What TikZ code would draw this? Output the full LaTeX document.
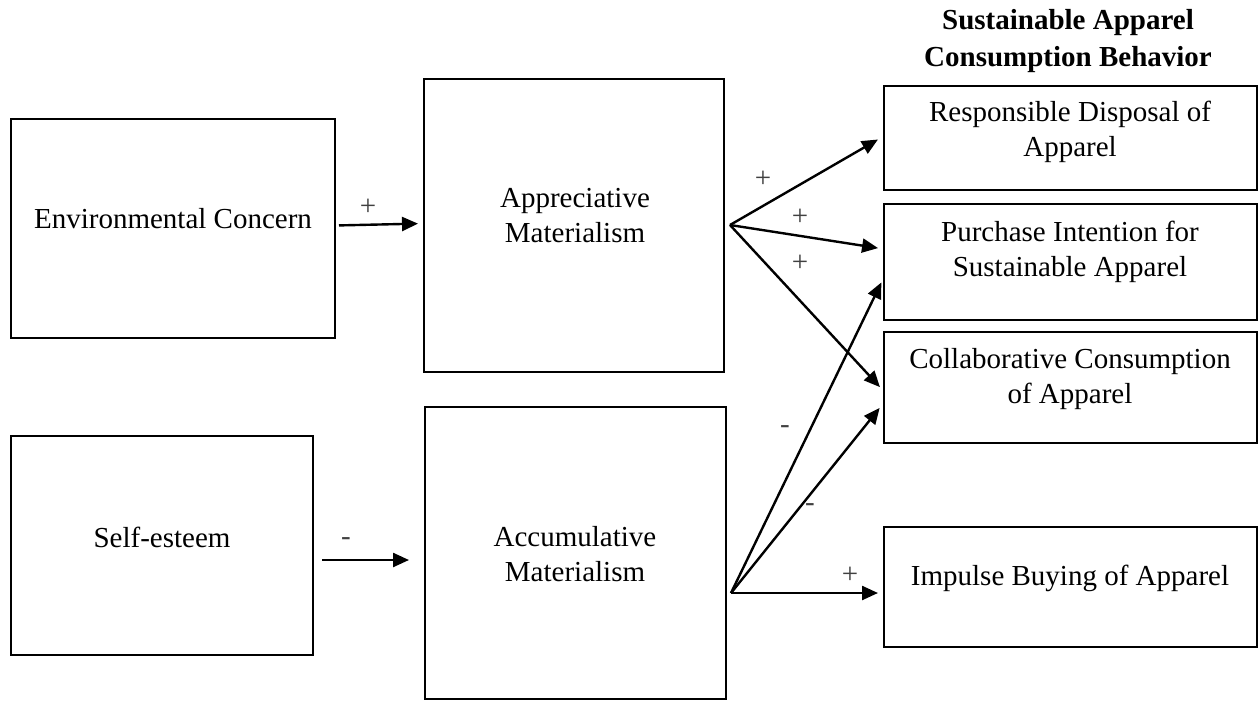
\documentclass[tikz,border=0pt]{standalone}
\usepackage{fontspec}
\setmainfont{Liberation Serif}
\usetikzlibrary{arrows.meta}
\begin{document}
\begin{tikzpicture}[x=1pt,y=-1pt,
  box/.style={draw=black,line width=1.8pt,inner sep=0pt,outer sep=0pt,rectangle},
  txt/.style={align=center,inner sep=0pt,font=\fontsize{29}{35}\selectfont},
  sign/.style={inner sep=0pt,text=black!75,font=\fontsize{29}{35}\selectfont},
  arr/.style={line width=2.4pt,-{Triangle[length=16pt,width=14pt]}}]
\useasboundingbox (0,0) rectangle (1258,701);
% boxes
\node[box,minimum width=324pt,minimum height=219pt] (env) at (173,228.5) {};
\node[box,minimum width=300pt,minimum height=293pt] (app) at (574,225.5) {};
\node[box,minimum width=302pt,minimum height=219pt] (self) at (162,545.5) {};
\node[box,minimum width=301pt,minimum height=292pt] (acc) at (575.5,553) {};
\node[box,minimum width=373pt,minimum height=104pt] (resp) at (1070.5,138) {};
\node[box,minimum width=373pt,minimum height=116pt] (purch) at (1070.5,262) {};
\node[box,minimum width=373pt,minimum height=111pt] (collab) at (1070.5,387.5) {};
\node[box,minimum width=373pt,minimum height=120pt] (imp) at (1070.5,587) {};
% texts
\node[txt] (envt) at (173,219) {Environmental Concern};
\node[txt] (appt) at (575,216) {Appreciative\\Materialism};
\node[txt] (selft) at (162,537) {Self-esteem};
\node[txt] (acct) at (575,554) {Accumulative\\Materialism};
\node[txt] (respt) at (1070,132) {Responsible Disposal of\\Apparel};
\node[txt] (purcht) at (1070,252) {Purchase Intention for\\Sustainable Apparel};
\node[txt] (collabt) at (1070,379) {Collaborative Consumption\\of Apparel};
\node[txt] (impt) at (1070,578) {Impulse Buying of Apparel};
\node[txt,font=\fontsize{29}{37}\selectfont\bfseries] (title) at (1068,41) {Sustainable Apparel\\Consumption Behavior};
% fan origins
\coordinate (appout) at (730,225);
\coordinate (accout) at (731,593);
% arrows
\draw[arr,shorten <=4pt,shorten >=6pt] ([yshift=3pt]env.east) -- ([yshift=2pt]app.west);
\draw[arr,shorten <=9pt,shorten >=16pt] ([yshift=-14.5pt]self.east) -- ([yshift=-7pt]acc.west);
\draw[arr,shorten >=7pt] (appout) -- ([yshift=2pt]resp.west);
\draw[arr,shorten >=6pt] (appout) -- ([yshift=13pt]purch.west);
\draw[arr,shorten >=6pt] (appout) -- ([yshift=-4pt]collab.west);
\draw[arr,shorten >=6pt] (accout) -- ([yshift=-15pt]purch.west);
\draw[arr,shorten >=7pt] (accout) -- ([yshift=-15pt]collab.west);
\draw[arr,shorten >=6pt] (accout) -- ([yshift=-6pt]imp.west);
% signs
\node[sign] (s1) at (368,207) {+};
\node[sign] (s2) at (346,542) {-};
\node[sign] (s3) at (763,179) {+};
\node[sign] (s4) at (800,217) {+};
\node[sign] (s5) at (800,263) {+};
\node[sign] (s6) at (785,430) {-};
\node[sign] (s7) at (810,508) {-};
\node[sign] (s8) at (850,575) {+};
\end{tikzpicture}
\end{document}
